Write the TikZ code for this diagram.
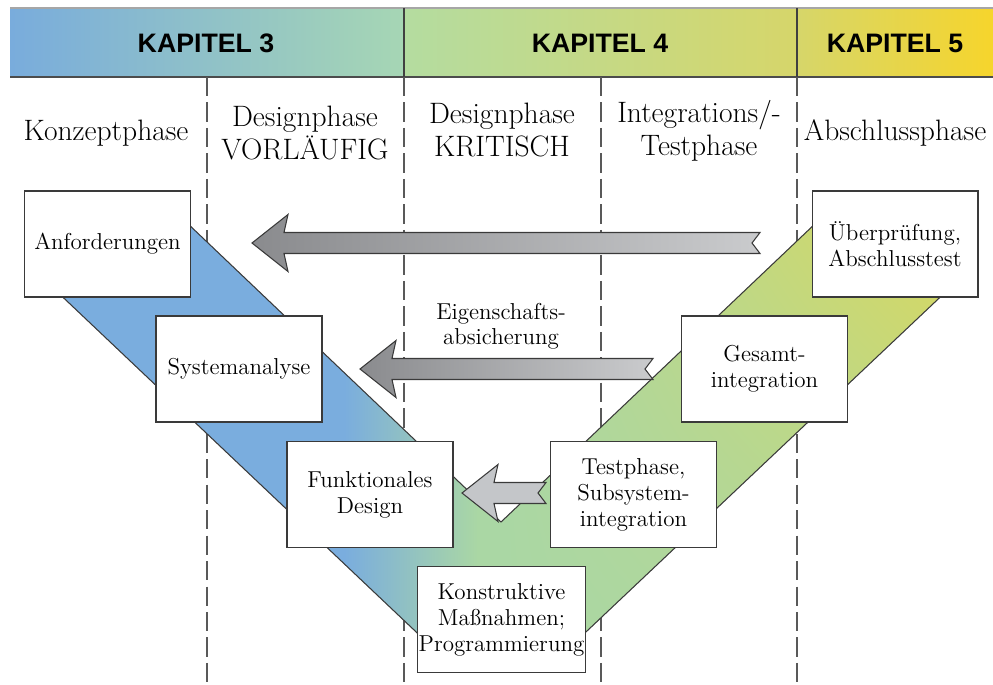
\documentclass[tikz,border=0pt]{standalone}
\usepackage{fontspec}
\newfontfamily\kapfont{Liberation Sans}
\usetikzlibrary{calc, shadings}

\definecolor{barblue}{HTML}{79ACDC}
\definecolor{barteal}{HTML}{A6D6B4}
\definecolor{bargreen}{HTML}{B4DCA0}
\definecolor{barolive}{HTML}{D6D66A}
\definecolor{baryellow}{HTML}{F6D52C}
\definecolor{vblue}{HTML}{7AADDE}
\definecolor{vgreen}{HTML}{AAD7A4}
\definecolor{vyellow}{HTML}{E2D950}
\definecolor{arrdark}{HTML}{8A8B8E}
\definecolor{arrlight}{HTML}{CACBCD}
\definecolor{arrpale}{HTML}{C4C6C9}
\definecolor{edge}{HTML}{3A3A3A}

% block arrow pointing left: #1 tip, #2 tail, #3 style
\newcommand{\blockarrow}[3]{%
  \path[#3] (#1) -- ($(#1)+(36,-28.5)$) -- ($(#1)+(32,-10.5)$)
    -- ($(#2)+(0,-10.5)$) -- ($(#2)+(-8,0)$) -- ($(#2)+(0,10.5)$)
    -- ($(#1)+(32,10.5)$) -- ($(#1)+(36,28.5)$) -- cycle;}

\begin{document}
\begin{tikzpicture}[x=0.02cm, y=-0.02cm,
    box/.style={draw=edge, line width=0.6pt, fill=white, align=center,
      minimum width=3.32cm, minimum height=2.12cm, inner sep=0.5pt,
      font=\fontsize{13.1}{14.8}\selectfont},
    phase/.style={align=center, inner sep=0pt, font=\fontsize{16.8}{18.7}\selectfont},
    kap/.style={inner sep=0pt, font=\kapfont\bfseries\fontsize{15.2}{18}\selectfont},
    sep/.style={draw=black!65, line width=0.6pt, dash pattern=on 11pt off 3.5pt}]
\useasboundingbox (0,0) rectangle (993,684);

% chapter bar
\shade[left color=barblue, right color=barteal] (10,8) rectangle (404,77);
\shade[left color=bargreen, right color=barolive] (404,8) rectangle (797,77);
\shade[left color=barolive, right color=baryellow] (797,8) rectangle (993,77);
\draw[black!35, line width=1pt] (10,8) -- (993,8);
\draw[black!70, line width=1.3pt] (10,77) -- (993,77);
\draw[black!75, line width=0.6pt] (404,8) -- (404,77) (797,8) -- (797,77);
\node[kap] (k3) at (206,43) {KAPITEL 3};
\node[kap] (k4) at (600,43) {KAPITEL 4};
\node[kap] (k5) at (895,43) {KAPITEL 5};

% phase separators
\draw[sep] (207,77) -- (207,684);
\draw[sep] (404,77) -- (404,684);
\draw[sep] (601,77) -- (601,684);
\draw[sep] (797,77) -- (797,684);

\node[phase] (konzept) at (106,133) {Konzeptphase};
\node[phase] (vorl) at (305,133) {Designphase\\VORLÄUFIG};
\node[phase] (krit) at (502,130) {Designphase\\KRITISCH};
\node[phase] (integ) at (699,131) {Integrations/-\\Testphase};
\node[phase] (abschl) at (895,133) {Abschlussphase};

% the V, cut off behind the bottom box
\coordinate (vol) at (50,285);
\coordinate (vil) at (185,221);
\coordinate (vin) at (501,522);
\coordinate (vir) at (818,221);
\coordinate (vor) at (953,285);
\coordinate (vbl) at (451,665);
\coordinate (vbr) at (551,665);
\begin{scope}
  \clip (vol) -- (vil) -- (vin) -- (vir) -- (vor) -- (vbr) -- (vbl) -- cycle;
  \fill[vblue] (0,150) rectangle (345,720);
  \shade[left color=vblue, right color=vgreen] (344,150) rectangle (478,720);
  \fill[vgreen] (477,150) rectangle (502,720);
  \shade[lower left=vgreen, upper left=vgreen, lower right=vgreen, upper right=vyellow]
    (501,180) rectangle (993,712);
\end{scope}
\draw[edge, line width=0.6pt, line join=round]
  (vol) -- (vbl) (vbr) -- (vor) (vil) -- (vin) -- (vir);

% feedback arrows
\coordinate (a1tip) at (252,243);
\coordinate (a1tail) at (760,243);
\coordinate (a2tip) at (360,369);
\coordinate (a2tail) at (653,369);
\coordinate (a3tip) at (462,493);
\coordinate (a3tail) at (546,493);
\blockarrow{a1tip}{a1tail}{draw=edge, line width=0.6pt, left color=arrdark, right color=arrlight}
\blockarrow{a2tip}{a2tail}{draw=edge, line width=0.6pt, left color=arrdark, right color=arrlight}
\blockarrow{a3tip}{a3tail}{draw=edge, line width=0.6pt, fill=arrpale}
\node[align=center, inner sep=0pt, font=\fontsize{13.1}{14.5}\selectfont] (eigen) at (501,326)
  {Eigenschafts-\\absicherung};

% boxes
\node[box] (anf) at (107.5,244) {Anforderungen};
\node[box] (sys) at (239,369) {Systemanalyse};
\node[box] (fkt) at (370,494.5) {Funktionales\\Design};
\node[box] (kon) at (501.5,619.5) {Konstruktive\\Maßnahmen;\\Programmierung};
\node[box] (sub) at (633.5,494.5) {Testphase,\\Subsystem-\\integration};
\node[box] (ges) at (764.5,369) {Gesamt-\\integration};
\node[box] (pruef) at (895,244) {Überprüfung,\\Abschlusstest};
\end{tikzpicture}
\end{document}
